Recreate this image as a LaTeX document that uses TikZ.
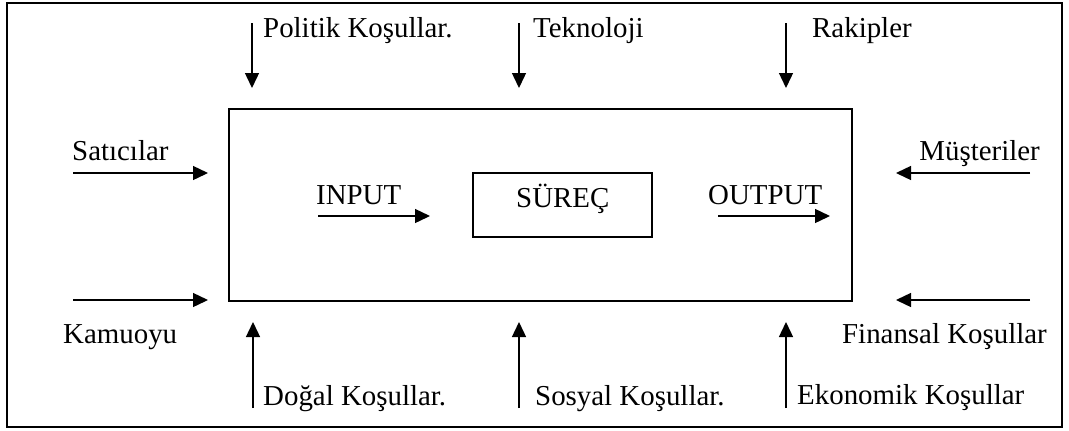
\documentclass[tikz,border=0pt]{standalone}
\usepackage{fontspec}
\setmainfont{Liberation Serif}
\usetikzlibrary{arrows.meta}
\begin{document}
\begin{tikzpicture}[x=1bp,y=-1bp,
  lbl/.style={anchor=base west,inner sep=0pt,font=\fontsize{29}{34}\selectfont},
  lblr/.style={lbl,anchor=base east},
  flow/.style={line width=1.4bp,-{Triangle[length=15bp,width=14bp]}},
  frame/.style={draw,line width=2bp}]
\useasboundingbox (0,0) rectangle (1069,430);
% outer frame
\draw[frame] (7,3) rectangle (1062,427);
% organisation box and the process box inside it
\node[frame,minimum width=623bp,minimum height=192bp,inner sep=0pt] (org) at (540.5,204.5) {};
\node[frame,minimum width=179bp,minimum height=64bp,inner sep=0pt,
      font=\fontsize{29}{34}\selectfont] (surec) at (562.5,205) {};
\node[lbl] (surect) at (516,207) {SÜREÇ};
% input / output
\node[lbl] (input) at (316,204) {INPUT};
\node[lbl] (output) at (708,204) {OUTPUT};
\coordinate (in1) at (318,216); \coordinate (in2) at (430,216);
\coordinate (out1) at (718,216); \coordinate (out2) at (830,216);
\draw[flow] (in1) -- (in2);
\draw[flow] (out1) -- (out2);
% top influences
\node[lbl] (politik) at (263,37) {Politik Koşullar.};
\node[lbl] (tekno) at (533,37) {Teknoloji};
\node[lbl] (rakip) at (812,37) {Rakipler};
\coordinate (t1a) at (252,23); \coordinate (t1b) at (252,88);
\coordinate (t2a) at (519,23); \coordinate (t2b) at (519,88);
\coordinate (t3a) at (786,23); \coordinate (t3b) at (786,88);
\draw[flow] (t1a) -- (t1b);
\draw[flow] (t2a) -- (t2b);
\draw[flow] (t3a) -- (t3b);
% bottom influences
\node[lbl] (dogal) at (263,405) {Doğal Koşullar.};
\node[lbl] (sosyal) at (535,405) {Sosyal Koşullar.};
\node[lbl] (ekonomik) at (797,404) {Ekonomik Koşullar};
\coordinate (b1a) at (253,408); \coordinate (b1b) at (253,322);
\coordinate (b2a) at (519,408); \coordinate (b2b) at (519,322);
\coordinate (b3a) at (786,408); \coordinate (b3b) at (786,322);
\draw[flow] (b1a) -- (b1b);
\draw[flow] (b2a) -- (b2b);
\draw[flow] (b3a) -- (b3b);
% left influences
\node[lbl] (satici) at (72,160) {Satıcılar};
\node[lbl] (kamu) at (63,343) {Kamuoyu};
\coordinate (l1a) at (73,173); \coordinate (l1b) at (208,173);
\coordinate (l2a) at (73,300); \coordinate (l2b) at (208,300);
\draw[flow] (l1a) -- (l1b);
\draw[flow] (l2a) -- (l2b);
% right influences
\node[lblr] (musteri) at (1040,160) {Müşteriler};
\node[lblr] (finans) at (1047,343) {Finansal Koşullar};
\coordinate (r1a) at (1030,173); \coordinate (r1b) at (896,173);
\coordinate (r2a) at (1030,300); \coordinate (r2b) at (896,300);
\draw[flow] (r1a) -- (r1b);
\draw[flow] (r2a) -- (r2b);
\end{tikzpicture}
\end{document}
